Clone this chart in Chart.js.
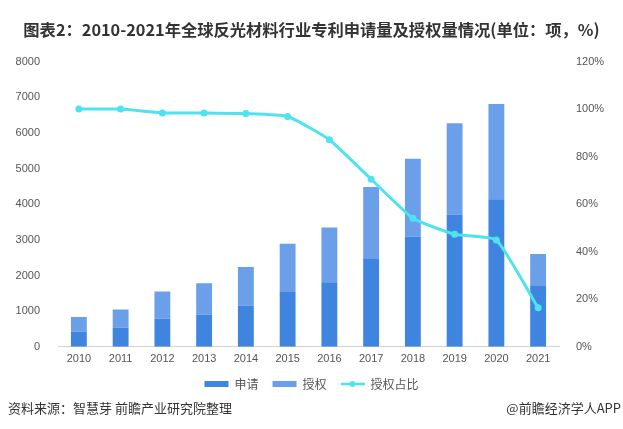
<!DOCTYPE html>
<html>
<head>
<meta charset="utf-8">
<script src="https://cdn.jsdelivr.net/npm/chart.js@4"></script>
<style>
  html, body { margin: 0; padding: 0; background: #fff; }
  #wrap { position: relative; width: 623px; height: 429px; }
  .foot { position: absolute; top: 398px; font: 13px "Noto Sans CJK SC", sans-serif; color: #333; }
</style>
</head>
<body>
<div id="wrap">
  <canvas id="patents" width="623" height="429"></canvas>
  <div class="foot" style="left:8px">资料来源：智慧芽 前瞻产业研究院整理</div>
  <div class="foot" style="right:2px">@前瞻经济学人APP</div>
</div>
<script>
'use strict';

const years = ["2010", "2011", "2012", "2013", "2014", "2015", "2016", "2017", "2018", "2019", "2020", "2021"];
const applied = [426, 531, 787, 900, 1156, 1534, 1810, 2463, 3088, 3713, 4139, 1724];
const granted = [409, 512, 767, 881, 1080, 1355, 1534, 2017, 2188, 2557, 2671, 881];
const grantRate = [100, 100, 98.4, 98.4, 98.1, 96.9, 87.1, 70.5, 54.1, 47.3, 44.9, 16.4];
const leftTicks = [0, 1000, 2000, 3000, 4000, 5000, 6000, 7000, 8000];
const rightTicks = [0, 20, 40, 60, 80, 100, 120];

const darkBlue = "#3f85e0";
const lightBlue = "#6b9fe9";
const cyan = "#4fe3ee";

// little line-with-dot for the legend
let lineIcon = document.createElement("canvas");
lineIcon.width = 24;
lineIcon.height = 8;
let ic = lineIcon.getContext("2d");
ic.strokeStyle = cyan;
ic.lineWidth = 2.5;
ic.beginPath();
ic.moveTo(0, 4);
ic.lineTo(24, 4);
ic.stroke();
ic.fillStyle = cyan;
ic.beginPath();
ic.arc(12, 4, 3, 0, Math.PI * 2);
ic.fill();

let ctx = document.getElementById("patents");

let chart = new Chart(ctx, {
  data: {
    labels: years,
    datasets: [{
      type: 'line',
      label: "授权占比",
      data: grantRate,
      yAxisID: 'y1',
      borderColor: cyan,
      backgroundColor: cyan,
      borderWidth: 3,
      pointRadius: 3.5,
      pointBackgroundColor: cyan,
      pointBorderWidth: 0,
      tension: 0.15,
      order: 0
    }, {
      type: 'bar',
      label: "申请",
      data: applied,
      backgroundColor: darkBlue,
      stack: 'p',
      order: 1
    }, {
      type: 'bar',
      label: "授权",
      data: granted,
      backgroundColor: lightBlue,
      stack: 'p',
      order: 1
    }]
  },
  options: {
    responsive: false,
    animation: false,
    layout: {
      padding: { left: 0, right: 0, top: 0, bottom: 29 }
    },
    datasets: {
      bar: { categoryPercentage: 1, barPercentage: 0.38 }
    },
    scales: {
      x: {
        stacked: true,
        grid: { display: false },
        border: { color: "#d4d4d4" },
        ticks: { color: "#555", padding: -2, font: { family: "Liberation Sans", size: 11 } }
      },
      y: {
        stacked: true,
        position: 'left',
        min: 0,
        max: 8000,
        afterBuildTicks: function (scale) {
          scale.ticks = leftTicks.map(v => ({ value: v }));
        },
        afterFit: function (scale) { scale.width = 58; },
        grid: { display: false },
        border: { display: false },
        ticks: {
          color: "#555",
          padding: 10,
          font: { family: "Liberation Sans", size: 11 },
          callback: function (value) {
            return String(value);
          }
        }
      },
      y1: {
        position: 'right',
        min: 0,
        max: 120,
        afterBuildTicks: function (scale) {
          scale.ticks = rightTicks.map(v => ({ value: v }));
        },
        afterFit: function (scale) { scale.width = 64; },
        grid: { display: false },
        border: { display: false },
        ticks: {
          color: "#555",
          padding: 9,
          font: { family: "Liberation Sans", size: 11 },
          callback: function (value) {
            return value + '%';
          }
        }
      }
    },
    plugins: {
      title: {
        display: true,
        text: "图表2：2010-2021年全球反光材料行业专利申请量及授权量情况(单位：项，%)",
        align: 'center',
        color: "#333",
        font: { family: "Noto Sans CJK SC", size: 16.3, weight: 'bold' },
        padding: { top: 20, bottom: 22 }
      },
      legend: {
        position: 'bottom',
        labels: {
          usePointStyle: true,
          pointStyleWidth: 24,
          boxHeight: 6,
          padding: 14,
          color: "#555",
          font: { family: "Noto Sans CJK SC", size: 12 },
          generateLabels: function (c) {
            let items = Chart.defaults.plugins.legend.labels.generateLabels(c);
            items.forEach(function (it) {
              it.pointStyle = it.datasetIndex === 0 ? lineIcon : 'rect';
            });
            return items;
          },
          sort: function (a, b) {
            return [1, 2, 0].indexOf(a.datasetIndex) - [1, 2, 0].indexOf(b.datasetIndex);
          }
        }
      },
      tooltip: { enabled: false }
    }
  }
});
</script>
</body>
</html>
